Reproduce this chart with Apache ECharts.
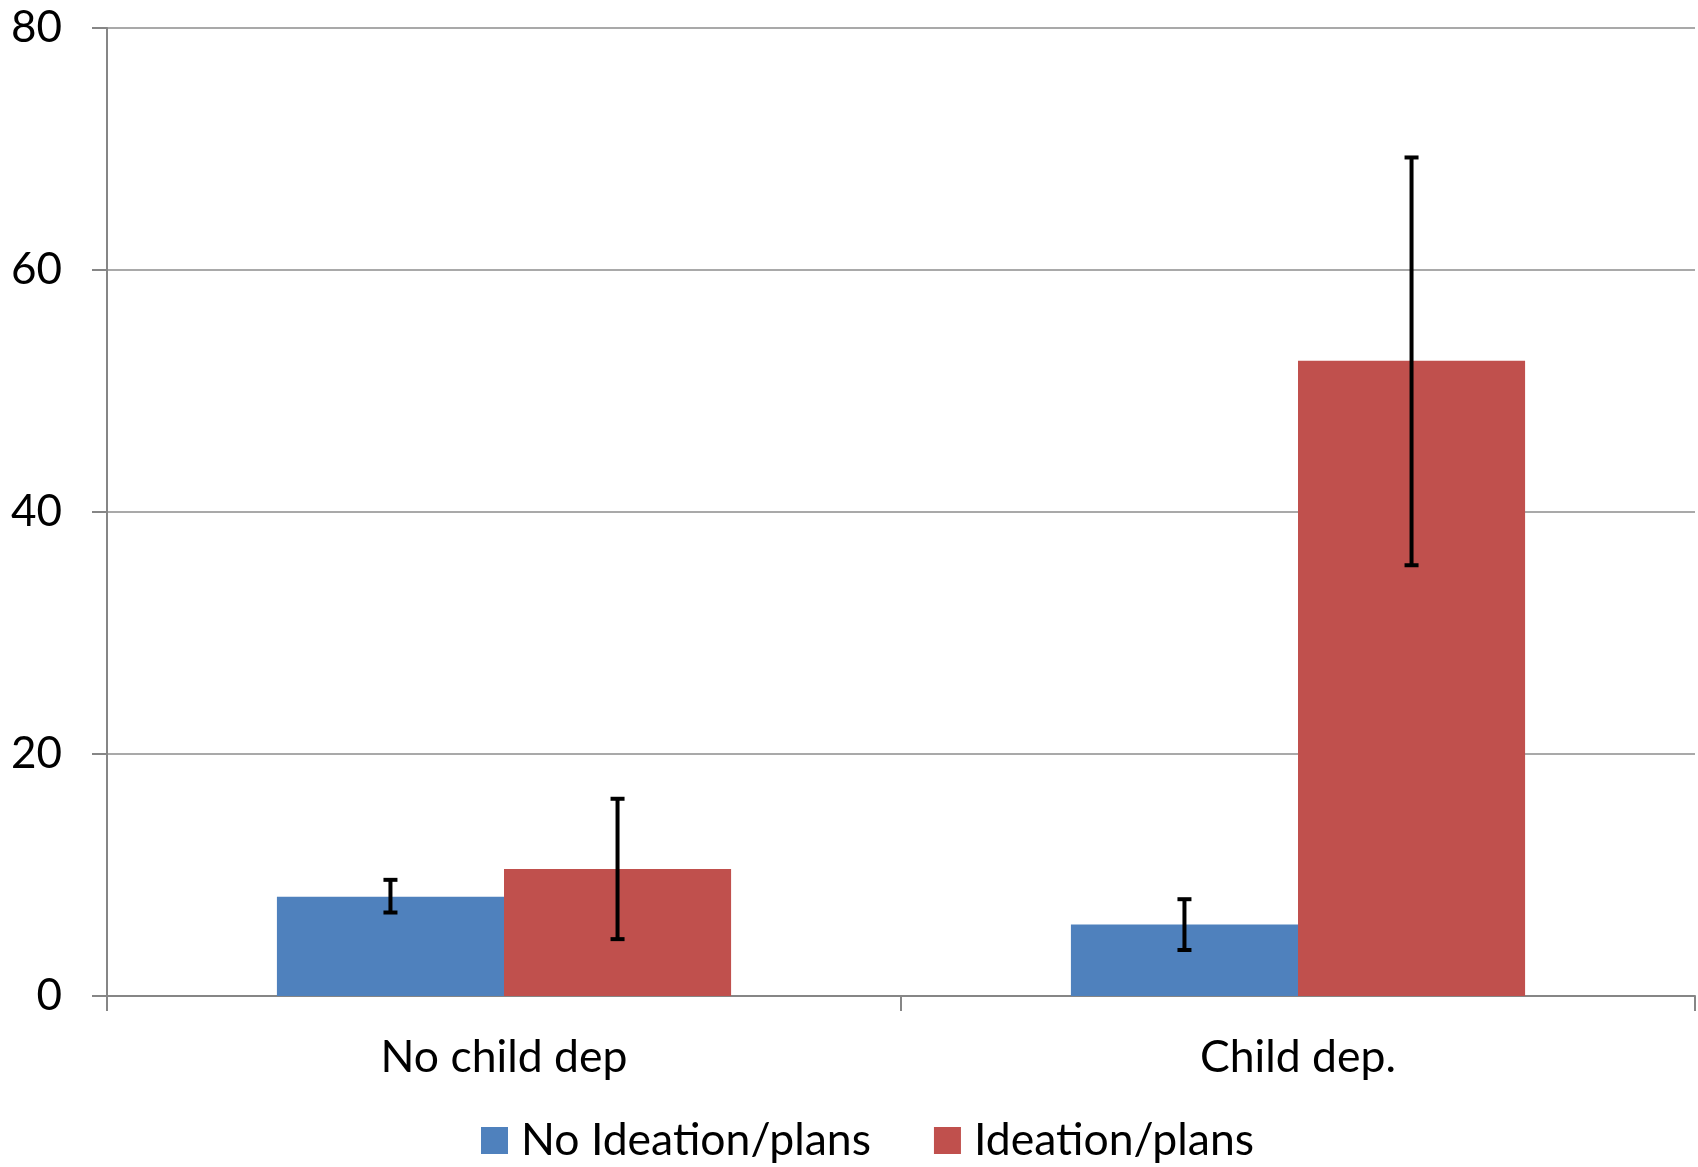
<!DOCTYPE html>
<html>
<head>
<meta charset="utf-8">
<script src="https://cdn.jsdelivr.net/npm/echarts@6/dist/echarts.min.js"></script>
<style>
html,body{margin:0;padding:0;background:#fff;}
#chart{width:1698px;height:1167px;}
</style>
</head>
<body>
<div id="chart"></div>
<script>
const categories = ['No child dep', 'Child dep.'];
const seriesNames = ['No Ideation/plans', 'Ideation/plans'];
const noIdeation = [8.2, 5.9];
const noIdeationLow = [6.9, 3.8];
const noIdeationHigh = [9.6, 8.0];
const ideation = [10.5, 52.5];
const ideationLow = [4.7, 35.6];
const ideationHigh = [16.3, 69.3];
const yTicks = [0, 20, 40, 60, 80];

const BAR_FRAC = 0.286;
const FONT = 'Lato, "Open Sans", sans-serif';

function errSeries(low, high, side) {
  return {
    type: 'custom',
    z: 10,
    silent: true,
    data: categories.map((c, i) => [i, low[i], high[i]]),
    renderItem: function (params, api) {
      const i = api.value(0);
      const lo = api.coord([i, api.value(1)]);
      const hi = api.coord([i, api.value(2)]);
      const band = api.size([1, 0])[0];
      const x = lo[0] + side * band * BAR_FRAC / 2;
      const cap = 7;
      const style = { stroke: '#000', lineWidth: 4 };
      return {
        type: 'group',
        children: [
          { type: 'line', shape: { x1: x, y1: lo[1], x2: x, y2: hi[1] }, style: style },
          { type: 'line', shape: { x1: x - cap, y1: lo[1], x2: x + cap, y2: lo[1] }, style: style },
          { type: 'line', shape: { x1: x - cap, y1: hi[1], x2: x + cap, y2: hi[1] }, style: style }
        ]
      };
    }
  };
}

const chart = echarts.init(document.getElementById('chart'), null, { renderer: 'canvas' });
chart.setOption({
  animation: false,
  backgroundColor: '#ffffff',
  textStyle: { fontFamily: FONT },
  grid: { left: 107, right: 3, top: 28, bottom: 171, containLabel: false },
  legend: {
    data: seriesNames,
    left: 476,
    top: 1113,
    itemWidth: 27,
    itemHeight: 27,
    itemGap: 63,
    icon: 'rect',
    textStyle: { fontFamily: FONT, fontSize: 44.5, color: '#000', padding: [0, 0, 0, 8] }
  },
  xAxis: {
    type: 'category',
    data: categories,
    axisLine: { show: true, lineStyle: { color: '#868686', width: 2 } },
    axisTick: { show: true, length: 15, interval: 0, lineStyle: { color: '#868686', width: 2 } },
    axisLabel: { fontFamily: FONT, fontSize: 44.5, color: '#000', margin: 39, interval: 0 },
    splitLine: { show: false }
  },
  yAxis: {
    type: 'value',
    min: 0,
    max: 80,
    interval: 20,
    axisLine: { show: true, lineStyle: { color: '#868686', width: 2 } },
    axisTick: { show: true, length: 15, lineStyle: { color: '#868686', width: 2 } },
    axisLabel: { fontFamily: FONT, fontSize: 44, color: '#000', margin: 45,
      formatter: v => yTicks.includes(v) ? String(v) : '' },
    splitLine: { show: true, lineStyle: { color: '#8c8c8c', width: 1.5 } }
  },
  series: [
    { name: seriesNames[0], type: 'bar', data: noIdeation, barWidth: (BAR_FRAC * 100) + '%', barGap: '0%',
      itemStyle: { color: '#4F81BD' } },
    { name: seriesNames[1], type: 'bar', data: ideation, barWidth: (BAR_FRAC * 100) + '%', barGap: '0%',
      itemStyle: { color: '#C0504D' } },
    errSeries(noIdeationLow, noIdeationHigh, -1),
    errSeries(ideationLow, ideationHigh, 1)
  ]
});
</script>
</body>
</html>
